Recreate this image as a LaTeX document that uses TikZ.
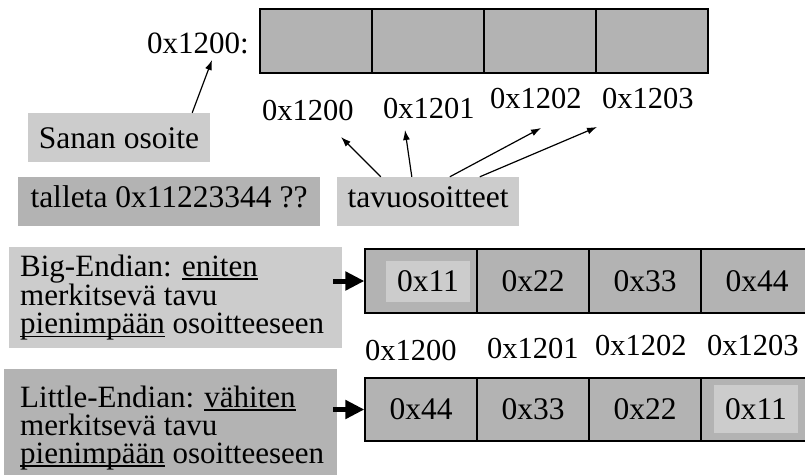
\documentclass[tikz,border=0pt]{standalone}
\usepackage{fontspec}
\setmainfont{Liberation Serif}
\usetikzlibrary{arrows.meta}
\definecolor{lightg}{HTML}{CCCCCC}
\definecolor{darkg}{HTML}{B3B3B3}
\newcommand\undl[1]{\setbox0\hbox{#1}\rlap{\rule[-4pt]{\wd0}{1.6pt}}\box0\relax}
\newcommand\threelines[3]{\vtop{\baselineskip=28pt\hbox{#1}\hbox{#2}\hbox{#3}}}
\begin{document}
\begin{tikzpicture}[x=1pt,y=-1pt,
  cell/.style={draw=black, line width=1.2pt, fill=darkg, minimum width=112pt, minimum height=64pt, inner sep=0pt, font=\fontsize{31.5}{36}\selectfont},
  hl/.style={fill=lightg, minimum width=84pt, inner sep=0pt, font=\fontsize{31.5}{36}\selectfont},
  lbl/.style={inner sep=0pt, anchor=base west, font=\fontsize{30.5}{36}\selectfont},
  tbox/.style={inner sep=0pt, font=\fontsize{31.5}{36}\selectfont, text height=21pt, minimum height=49pt},
  para/.style={inner sep=0pt, anchor=base west, font=\fontsize{31}{28}\selectfont},
  thin arrow/.style={line width=1.2pt, -{Latex[length=10pt,width=7pt]}},
  fat arrow/.style={line width=5pt, -{Triangle[length=19pt,width=18pt]}},
]
\useasboundingbox (0,0) rectangle (805,474);
\clip (0,0) rectangle (805,474);

% top memory word
\node[cell] (c1) at (316,41) {};
\node[cell] (c2) at (428,41) {};
\node[cell] (c3) at (540,41) {};
\node[cell] (c4) at (652,41) {};
\node[lbl, anchor=base east, font=\fontsize{31}{36}\selectfont] (wordaddr) at (249,53) {0x1200:};

\node[lbl] (t0) at (262,120) {0x1200};
\node[lbl] (t1) at (383,118) {0x1201};
\node[lbl] (t2) at (490,108) {0x1202};
\node[lbl] (t3) at (602,108) {0x1203};

\node[tbox, fill=lightg, minimum width=182pt, text depth=0pt] (sanan) at (119,137.5) {Sanan osoite};
\node[tbox, fill=darkg, minimum width=302pt, text depth=10pt] (talleta) at (169,201.5) {talleta 0x11223344 ??};
\node[tbox, fill=lightg, minimum width=182pt, text depth=10pt] (tavu) at (428,201.5) {tavuosoitteet};

\draw[thin arrow] ([xshift=-18pt]sanan.north east) -- ([xshift=-37pt,yshift=-7pt]wordaddr.base east);
\draw[thin arrow] ([xshift=44pt]tavu.north west) -- ([xshift=79pt,yshift=-17pt]t0.base west);
\draw[thin arrow] ([xshift=75pt]tavu.north west) -- ([xshift=22pt,yshift=-12pt]t1.base west);
\draw[thin arrow] ([xshift=113pt]tavu.north west) -- ([xshift=51pt,yshift=-20pt]t2.base west);
\draw[thin arrow] ([xshift=143pt]tavu.north west) -- ([xshift=-5pt,yshift=-19pt]t3.base west);

% Big-Endian
\node[fill=lightg, minimum width=333pt, minimum height=101pt, inner sep=0pt] (bigbox) at (175.5,297.5) {};
\node[para] (bigtxt) at (20,276) {\threelines{Big-Endian: \undl{eniten}}{merkitsevä tavu}{\undl{pienimpään} osoitteeseen}};

\node[cell] (b1) at (421,281) {};
\node[cell] (b2) at (533,281) {0x22};
\node[cell] (b3) at (645,281) {0x33};
\node[cell] (b4) at (757,281) {0x44};
\node[hl, minimum height=41pt] (bhl) at (428,281.5) {0x11};

\node[lbl] (m0) at (365,360) {0x1200};
\node[lbl] (m1) at (487,358) {0x1201};
\node[lbl] (m2) at (595,355) {0x1202};
\node[lbl] (m3) at (707,355) {0x1203};

% Little-Endian
\node[fill=darkg, minimum width=333pt, minimum height=107pt, inner sep=0pt] (litbox) at (170.5,422.5) {};
\node[para] (littxt) at (20,407) {\threelines{Little-Endian: \undl{vähiten}}{merkitsevä tavu}{\undl{pienimpään} osoitteeseen}};

\node[cell, minimum height=63pt] (l1) at (421,409.5) {0x44};
\node[cell, minimum height=63pt] (l2) at (533,409.5) {0x33};
\node[cell, minimum height=63pt] (l3) at (645,409.5) {0x22};
\node[cell, minimum height=63pt] (l4) at (757,409.5) {};
\node[hl, minimum height=48pt] (lhl) at (756,409) {0x11};

\draw[fat arrow] ([xshift=-31pt]b1.west) -- (b1.west);
\draw[fat arrow] ([xshift=-31pt]l1.west) -- (l1.west);
\end{tikzpicture}
\end{document}
